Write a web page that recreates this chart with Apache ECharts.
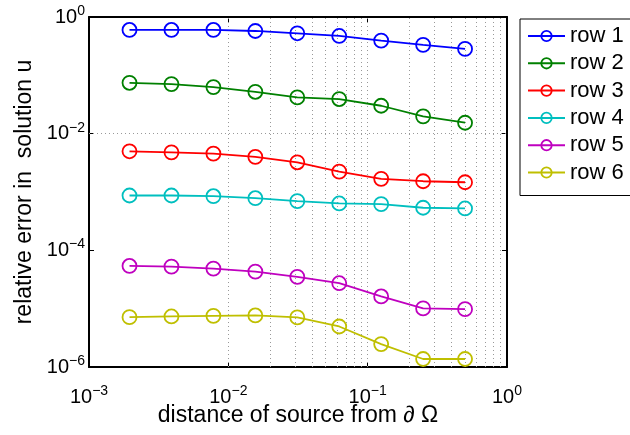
<!DOCTYPE html>
<html>
<head>
<meta charset="utf-8">
<script src="https://cdn.jsdelivr.net/npm/echarts@6/dist/echarts.min.js"></script>
<style>
html,body{margin:0;padding:0;background:#fff;}
#chart{width:630px;height:435px;}
</style>
</head>
<body>
<div id="chart"></div>
<script>
// distance of source from boundary
var xValues = [1/512, 1/256, 1/128, 1/64, 1/32, 1/16, 1/8, 1/4, 1/2];
var seriesNames = ['row 1', 'row 2', 'row 3', 'row 4', 'row 5', 'row 6'];
var row1 = [0.600, 0.600, 0.600, 0.576, 0.526, 0.473, 0.394, 0.332, 0.284];
var row2 = [0.0745, 0.0708, 0.0628, 0.0522, 0.0418, 0.0392, 0.0301, 0.0198, 0.0154];
var row3 = [4.99e-3, 4.79e-3, 4.55e-3, 4.00e-3, 3.23e-3, 2.24e-3, 1.68e-3, 1.53e-3, 1.47e-3];
var row4 = [8.71e-4, 8.71e-4, 8.47e-4, 7.83e-4, 6.96e-4, 6.36e-4, 6.19e-4, 5.37e-4, 5.22e-4];
var row5 = [5.40e-5, 5.26e-5, 4.86e-5, 4.32e-5, 3.50e-5, 2.73e-5, 1.62e-5, 1.01e-5, 9.8e-6];
var row6 = [7.16e-6, 7.35e-6, 7.53e-6, 7.65e-6, 7.08e-6, 4.95e-6, 2.47e-6, 1.37e-6, 1.37e-6];
var colors = ['#0000ff', '#008000', '#ff0000', '#00bfbf', '#bf00bf', '#bfbf00'];
// grid line positions
var xMajorGrid = [1e-2, 1e-1];
var yMajorGrid = [1e-2, 1e-4];
var xMinorGrid = [2e-3,3e-3,4e-3,5e-3,6e-3,7e-3,8e-3,9e-3,
                  2e-2,3e-2,4e-2,5e-2,6e-2,7e-2,8e-2,9e-2,
                  2e-1,3e-1,4e-1,5e-1,6e-1,7e-1,8e-1,9e-1];

var rows = [row1, row2, row3, row4, row5, row6];
var FONT = '"Liberation Sans", Arial, Helvetica, sans-serif';

function expLabel(v) {
  var e = Math.round(Math.log(v) / Math.LN10);
  var s = e < 0 ? '\u2212' + (-e) : String(e);
  return '{b|10}{s|' + s + '}';
}
var richLabel = {
  b: {fontSize: 20, fontFamily: FONT, color: '#000'},
  s: {fontSize: 14, fontFamily: FONT, color: '#000', padding: [0, 0, 12, 0]}
};

var series = rows.map(function (r, i) {
  return {
    name: seriesNames[i],
    type: 'line',
    data: xValues.map(function (x, j) { return [x, r[j]]; }),
    symbol: 'circle',
    symbolSize: 14,
    color: colors[i],
    lineStyle: {width: 1.8, color: colors[i]},
    itemStyle: {color: 'rgba(0,0,0,0)', borderColor: colors[i], borderWidth: 1.8},
    z: 5,
    animation: false
  };
});

var gridMarks = [];
xMinorGrid.concat(xMajorGrid).forEach(function (v) { gridMarks.push({xAxis: v}); });
yMajorGrid.forEach(function (v) { gridMarks.push({yAxis: v}); });
series.push({
  name: 'grid',
  type: 'line',
  data: [],
  silent: true,
  z: 1,
  animation: false,
  markLine: {
    silent: true,
    symbol: ['none', 'none'],
    label: {show: false},
    animation: false,
    lineStyle: {color: '#999999', width: 1, type: [1, 3]},
    emphasis: {disabled: true},
    data: gridMarks
  }
});

var axisCommon = {
  axisLine: {show: true, onZero: false, lineStyle: {color: '#000', width: 2}},
  axisTick: {show: true, inside: true, length: 5, lineStyle: {color: '#000', width: 1}},
  splitLine: {show: false},
  minorTick: {show: false},
  minorSplitLine: {show: false}
};

var chart = echarts.init(document.getElementById('chart'), null, {renderer: 'canvas'});
chart.setOption({
  backgroundColor: '#fff',
  animation: false,
  grid: {left: 89, right: 123, top: 17, bottom: 68, show: false, containLabel: false, outerBoundsMode: 'none'},
  legend: {
    data: seriesNames.map(function (n, i) {
      return {name: n, itemStyle: {color: 'rgba(0,0,0,0)', borderColor: colors[i], borderWidth: 1.8}};
    }),
    left: 520, top: 19,
    orient: 'vertical',
    backgroundColor: '#fff',
    borderColor: '#000', borderWidth: 1,
    padding: [6, 24, 12, 7],
    itemWidth: 37, itemHeight: 13,
    itemGap: 5.3,
    textStyle: {fontSize: 22, fontFamily: FONT, color: '#000', lineHeight: 22},
    selectedMode: false
  },
  xAxis: [
    Object.assign({}, axisCommon, {
      type: 'log', logBase: 10, min: 1e-3, max: 1, position: 'bottom',
      name: 'distance of source from \u2202 \u03A9',
      nameLocation: 'middle', nameGap: 37, nameMoveOverlap: false,
      nameTextStyle: {fontSize: 23, fontFamily: FONT, color: '#000'},
      axisLabel: {margin: 17, formatter: expLabel, rich: richLabel}
    }),
    Object.assign({}, axisCommon, {
      type: 'log', logBase: 10, min: 1e-3, max: 1, position: 'top',
      axisLabel: {show: false}
    })
  ],
  yAxis: [
    Object.assign({}, axisCommon, {
      type: 'log', logBase: 10, min: 1e-6, max: 1, interval: 2, position: 'left',
      name: 'relative error in  solution u',
      nameLocation: 'middle', nameGap: 53, nameMoveOverlap: false,
      nameTextStyle: {fontSize: 23, fontFamily: FONT, color: '#000'},
      axisLabel: {margin: 4, formatter: expLabel, rich: richLabel}
    }),
    Object.assign({}, axisCommon, {
      type: 'log', logBase: 10, min: 1e-6, max: 1, interval: 2, position: 'right',
      axisLabel: {show: false}
    })
  ],
  series: series
});
</script>
</body>
</html>
